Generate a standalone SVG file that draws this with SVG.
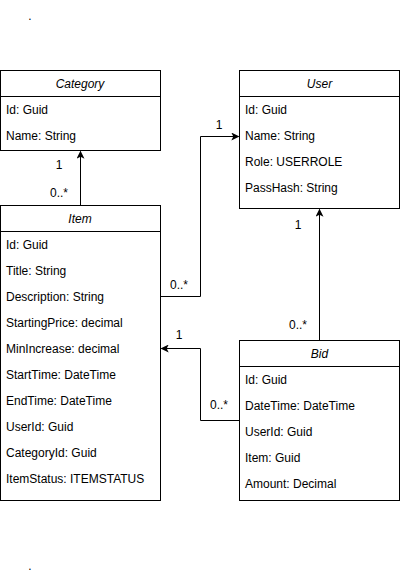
<svg xmlns="http://www.w3.org/2000/svg" width="400" height="580" viewBox="0 0 400 580">
<style>
text{font-family:"Liberation Sans",Arial,sans-serif;font-size:12px;fill:#000}
.t{font-style:italic;text-anchor:middle}
.box{fill:#fff;stroke:#000;stroke-width:1}
.ln{fill:none;stroke:#000;stroke-width:1}
.lbl{text-anchor:middle}
</style>
<defs>
<marker id="arr" viewBox="0 0 10 10" refX="9" refY="5" markerWidth="8" markerHeight="8" markerUnits="userSpaceOnUse" orient="auto">
<path d="M0,0 L10,5 L0,10 L2.5,5 Z" fill="#000"/>
</marker>
</defs>
<text x="30" y="20" class="lbl">.</text>
<text x="30" y="570" class="lbl">.</text>
<g id="connectors">
<path class="ln" d="M80.5,205.5 V151.5" marker-end="url(#arr)"/>
<path class="ln" d="M160.5,296.5 H200.5 V136.5 H238.5" marker-end="url(#arr)"/>
<path class="ln" d="M319.5,340.5 V209.5" marker-end="url(#arr)"/>
<path class="ln" d="M239.5,420.5 H200.5 V348.5 H161.5" marker-end="url(#arr)"/>
<text x="59" y="169" class="lbl">1</text>
<text x="59" y="197" class="lbl">0..*</text>
<text x="179" y="289" class="lbl">0..*</text>
<text x="219" y="129" class="lbl">1</text>
<text x="298" y="229" class="lbl">1</text>
<text x="298" y="329" class="lbl">0..*</text>
<text x="179" y="339" class="lbl">1</text>
<text x="219" y="409" class="lbl">0..*</text>
</g>
<g id="category">
<rect class="box" x="0.5" y="70.5" width="160" height="80"/>
<line class="ln" x1="0.5" y1="96.5" x2="160.5" y2="96.5"/>
<text x="80" y="88" class="t">Category</text>
<text x="6" y="114">Id: Guid</text>
<text x="6" y="140">Name: String</text>
</g>
<g id="user">
<rect class="box" x="239.5" y="70.5" width="160" height="138"/>
<line class="ln" x1="239.5" y1="96.5" x2="399.5" y2="96.5"/>
<text x="319.5" y="88" class="t">User</text>
<text x="245" y="114">Id: Guid</text>
<text x="245" y="140">Name: String</text>
<text x="245" y="166">Role: USERROLE</text>
<text x="245" y="192">PassHash: String</text>
</g>
<g id="item">
<rect class="box" x="0.5" y="205.5" width="160" height="295"/>
<line class="ln" x1="0.5" y1="231.5" x2="160.5" y2="231.5"/>
<text x="80" y="223" class="t">Item</text>
<text x="6" y="249">Id: Guid</text>
<text x="6" y="275">Title: String</text>
<text x="6" y="301">Description: String</text>
<text x="6" y="327">StartingPrice: decimal</text>
<text x="6" y="353">MinIncrease: decimal</text>
<text x="6" y="379">StartTime: DateTime</text>
<text x="6" y="405">EndTime: DateTime</text>
<text x="6" y="431">UserId: Guid</text>
<text x="6" y="457">CategoryId: Guid</text>
<text x="6" y="483">ItemStatus: ITEMSTATUS</text>
</g>
<g id="bid">
<rect class="box" x="239.5" y="340.5" width="160" height="160"/>
<line class="ln" x1="239.5" y1="366.5" x2="399.5" y2="366.5"/>
<text x="319.5" y="358" class="t">Bid</text>
<text x="245" y="384">Id: Guid</text>
<text x="245" y="410">DateTime: DateTime</text>
<text x="245" y="436">UserId: Guid</text>
<text x="245" y="462">Item: Guid</text>
<text x="245" y="488">Amount: Decimal</text>
</g>
</svg>
